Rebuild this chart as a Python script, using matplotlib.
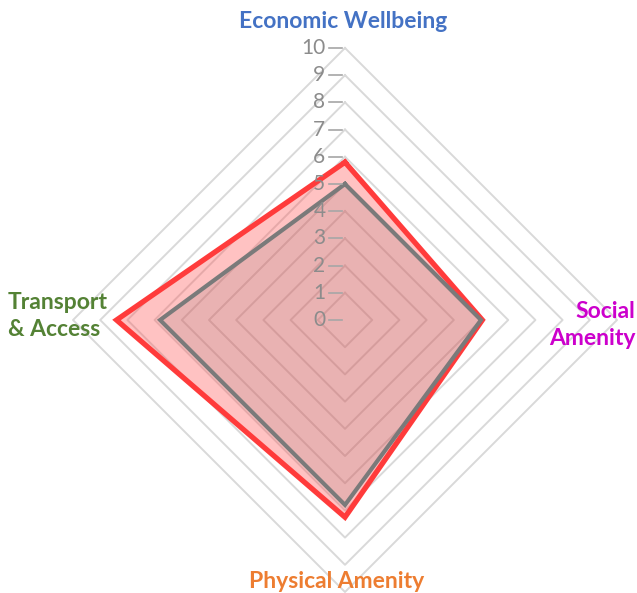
import numpy as np
import matplotlib.pyplot as plt

# categories, clockwise from top
categories = ["Economic Wellbeing", "Social\nAmenity", "Physical Amenity", "Transport\n& Access"]
cat_colors = ["#4472C4", "#CC00CC", "#ED7D31", "#548235"]
red_vals = [5.8, 5.05, 7.25, 8.4]
grey_vals = [5.0, 5.0, 6.8, 6.8]
ticks = list(range(0, 11))

# angles: top, right, bottom, left
ang = np.deg2rad([90, 0, -90, 180])


def to_xy(vals):
    v = np.asarray(vals, dtype=float)
    x = v * np.cos(ang)
    y = v * np.sin(ang)
    return np.append(x, x[0]), np.append(y, y[0])


W, H = 637, 593
cx, cy, ppu = 345, 320, 27.2

fig = plt.figure(figsize=(W / 100, H / 100), dpi=100)
ax = fig.add_axes([0, 0, 1, 1])
ax.set_xlim(-cx / ppu, (W - cx) / ppu)
ax.set_ylim(-(H - cy) / ppu, cy / ppu)
ax.set_aspect("equal")
ax.axis("off")

# diamond grid
for t in ticks[1:]:
    gx, gy = to_xy([t] * 4)
    ax.plot(gx, gy, color="#D9D9D9", lw=1.4, zorder=1)

# tick marks and labels on the vertical axis
for t in ticks:
    ax.plot([-0.6, -0.1], [t, t], color="#A6A6A6", lw=1.2, zorder=4)
    ax.text(-0.72, t, str(t), ha="right", va="center", fontsize=15,
            color="#8C8C8C", family="Lato", zorder=4)

# series
rx, ry = to_xy(red_vals)
ax.fill(rx, ry, color="#FF5050", alpha=0.35, lw=0, zorder=2)
ax.plot(rx, ry, color="#FF3B3B", lw=3.8, solid_joinstyle="miter", zorder=3)

gx, gy = to_xy(grey_vals)
ax.fill(gx, gy, color="#8A6A6A", alpha=0.18, lw=0, zorder=2)
ax.plot(gx, gy, color="#7A7A7A", lw=3.0, solid_joinstyle="miter", zorder=3)

# category labels
lab_font = dict(family="Lato", fontsize=16.5, fontweight="bold")
ax.text(-0.07, 10.98, categories[0], ha="center", va="center",
        color=cat_colors[0], **lab_font)
ax.text(10.68, -0.2, categories[1], ha="right", va="center",
        multialignment="right", color=cat_colors[1], linespacing=1.35, **lab_font)
ax.text(-0.3, -9.6, categories[2], ha="center", va="center",
        color=cat_colors[2], **lab_font)
ax.text(-12.4, 0.15, categories[3], ha="left", va="center",
        multialignment="left", color=cat_colors[3], linespacing=1.35, **lab_font)

fig.savefig("out.png", dpi=100)
